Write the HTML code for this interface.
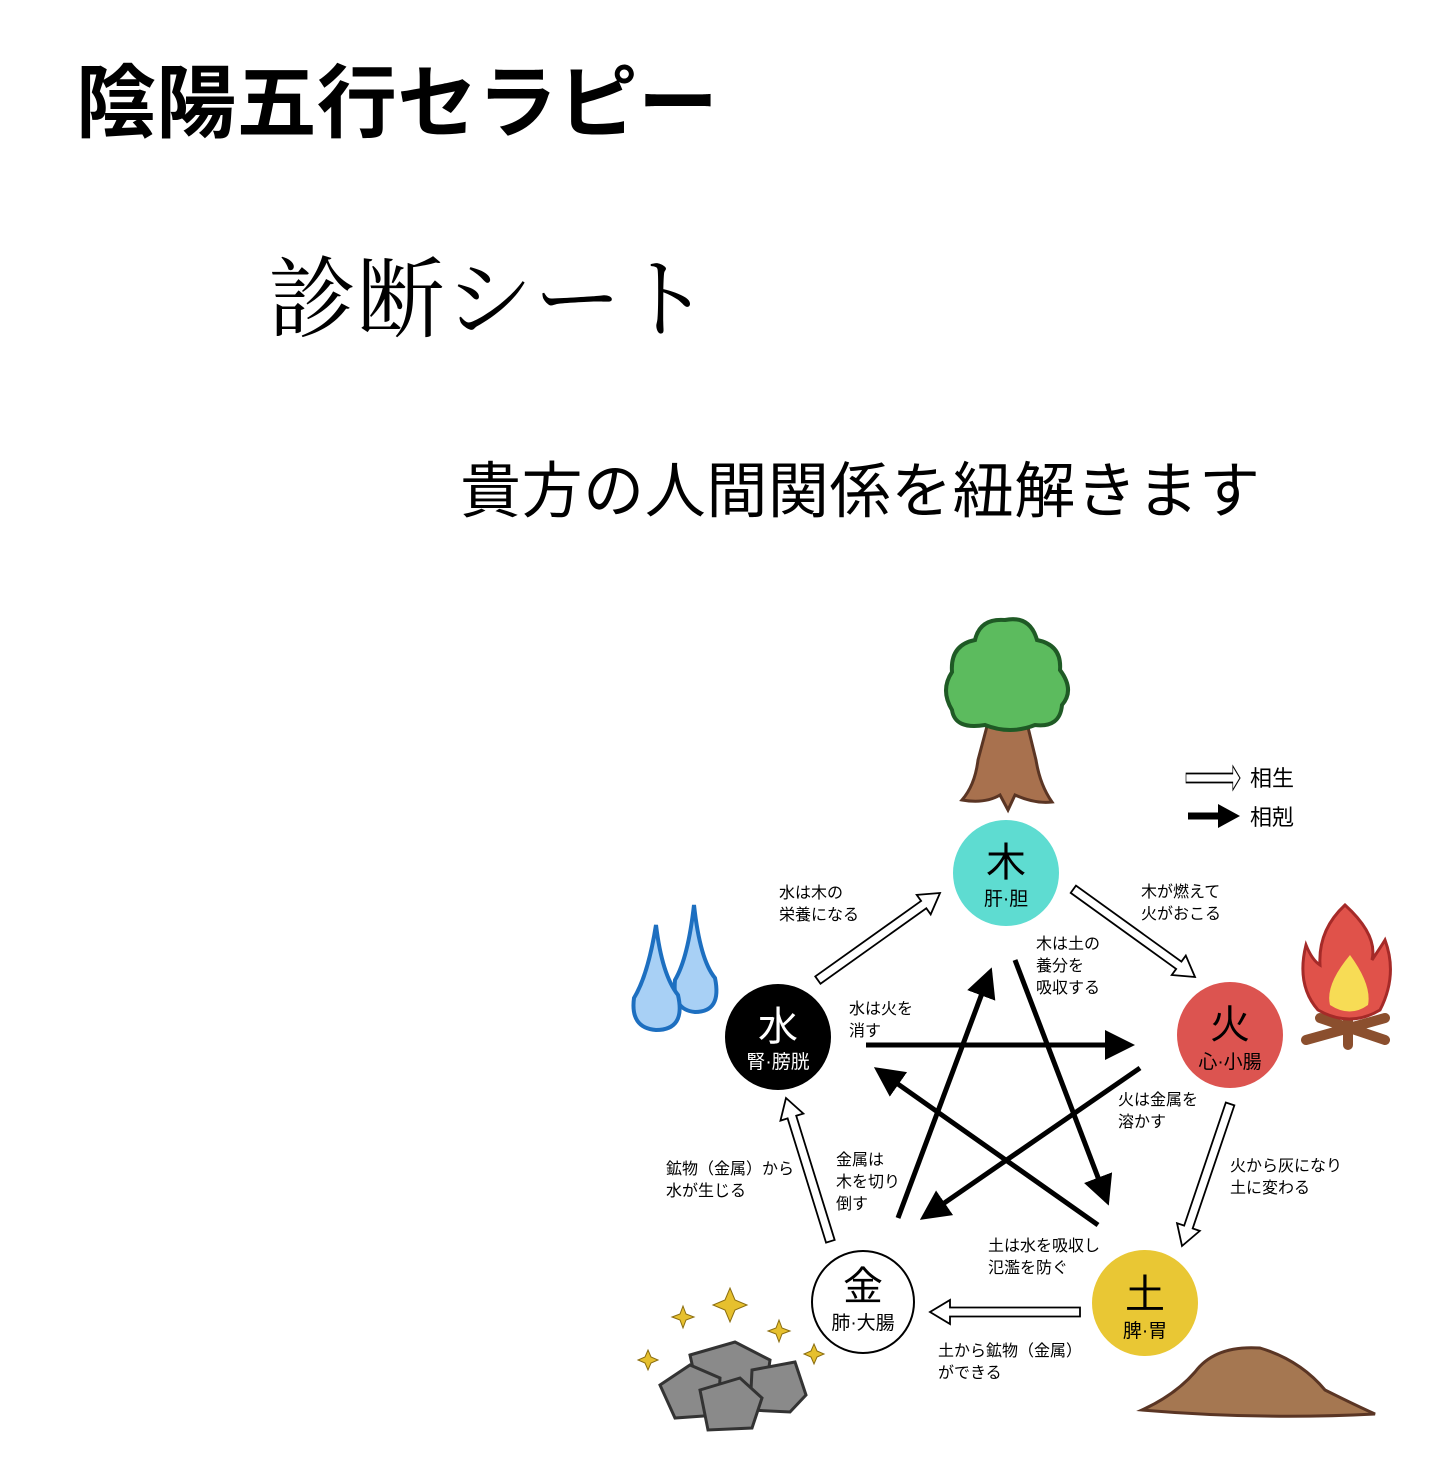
<!DOCTYPE html>
<html><head><meta charset="utf-8"><style>
html,body{margin:0;padding:0;background:#fff;}
body{width:1445px;height:1481px;overflow:hidden;position:relative;}
svg{position:absolute;left:0;top:0;}
</style></head><body>
<svg width="1445" height="1481" viewBox="0 0 1445 1481" xmlns="http://www.w3.org/2000/svg">
<defs>
<marker id="ah" markerWidth="6" markerHeight="6" refX="5" refY="3" orient="auto" markerUnits="strokeWidth">
<path d="M0,0 L6,3 L0,6 z" fill="#000"/></marker>
<g id="ha"><polygon points="0,0 -20,-12 -20,-4.5 -150,-4.5 -150,4.5 -20,4.5 -20,12" fill="#fff" stroke="#000" stroke-width="1.8" stroke-linejoin="miter"/></g>
</defs>
<g font-family="'Liberation Sans','Noto Sans CJK JP',sans-serif">
<text x="76" y="131" font-size="80" font-weight="bold" textLength="642">陰陽五行セラピー</text>
<text x="268" y="330" font-size="88" font-family="'Liberation Serif','Noto Serif CJK SC',serif" textLength="442">診断シート</text>
<text x="460" y="512" font-size="61" textLength="800">貴方の人間関係を紐解きます</text>

<!-- tree -->
<path d="M990,715 L978,760 Q975,785 962,800 Q985,804 1000,795 L1008,810 L1015,795 Q1035,804 1052,802 Q1040,785 1036,760 L1025,715 Z" fill="#a8714e" stroke="#5a3524" stroke-width="3"/>
<path d="M1005,620 Q1030,615 1037,640 Q1062,645 1060,670 Q1075,690 1062,705 Q1060,728 1035,725 Q1010,735 985,725 Q955,730 952,710 Q940,690 952,672 Q950,645 975,640 Q980,618 1005,620Z" fill="#5cbb5e" stroke="#1f5a25" stroke-width="4"/>
<!-- drops -->
<path d="M694,905 Q700,960 715,978 Q722,1012 695,1012 Q672,1010 675,980 Q688,958 694,905Z" fill="#a8d0f5" stroke="#1d6fc0" stroke-width="4"/>
<path d="M656,925 Q662,975 678,995 Q686,1030 656,1030 Q630,1028 634,998 Q648,975 656,925Z" fill="#a8d0f5" stroke="#1d6fc0" stroke-width="4"/>
<!-- fire -->
<path d="M1306,1040 L1385,1018 M1320,1018 L1385,1040 M1348,1020 L1348,1045" stroke="#8b4f2e" stroke-width="10" stroke-linecap="round"/>
<path d="M1345,905 Q1378,935 1372,960 Q1382,945 1385,940 Q1398,975 1380,1010 Q1350,1028 1318,1010 Q1296,985 1306,945 Q1312,960 1320,965 Q1318,930 1345,905Z" fill="#e0524a" stroke="#a52a28" stroke-width="3"/>
<path d="M1350,955 Q1372,985 1368,1005 Q1350,1018 1330,1005 Q1325,985 1350,955Z" fill="#f7dc55"/>
<!-- rocks -->
<g fill="#8a8a8a" stroke="#333" stroke-width="3">
<path d="M690,1355 L735,1342 L770,1360 L765,1395 L700,1400Z"/>
<path d="M660,1385 L690,1365 L720,1378 L718,1415 L675,1418Z"/>
<path d="M752,1370 L795,1362 L806,1395 L790,1412 L750,1410Z"/>
<path d="M700,1390 L740,1378 L762,1398 L752,1428 L708,1430Z"/>
</g>
<g fill="#e6c02e" stroke="#8a6d10" stroke-width="1">
<path d="M730,1288 l5,12 l12,5 l-12,5 l-5,12 l-5,-12 l-12,-5 l12,-5z"/>
<path d="M683,1306 l3,8 l8,3 l-8,3 l-3,8 l-3,-8 l-8,-3 l8,-3z"/>
<path d="M779,1320 l3,8 l8,3 l-8,3 l-3,8 l-3,-8 l-8,-3 l8,-3z"/>
<path d="M648,1350 l3,7 l7,3 l-7,3 l-3,7 l-3,-7 l-7,-3 l7,-3z"/>
<path d="M814,1344 l3,7 l7,3 l-7,3 l-3,7 l-3,-7 l-7,-3 l7,-3z"/>
</g>
<!-- dirt -->
<path d="M1142,1410 Q1175,1395 1195,1372 Q1215,1345 1260,1348 Q1300,1360 1325,1390 Q1355,1405 1375,1414 Q1260,1420 1142,1410Z" fill="#a57751" stroke="#5a3524" stroke-width="3"/>

<!-- legend -->
<use href="#ha" transform="translate(1240,778) scale(0.36,1)"/>
<line x1="1188" y1="816" x2="1222" y2="816" stroke="#000" stroke-width="7"/>
<polygon points="1240,816 1218,804 1218,828" fill="#000"/>
<text x="1250" y="786" font-size="22">相生</text>
<text x="1250" y="825" font-size="22">相剋</text>

<!-- solid arrows -->
<g stroke="#000" stroke-width="5" marker-end="url(#ah)">
<line x1="866" y1="1045" x2="1130" y2="1045"/>
<line x1="1140" y1="1068" x2="924" y2="1217"/>
<line x1="898" y1="1218" x2="990" y2="972"/>
<line x1="1015" y1="960" x2="1107" y2="1201"/>
<line x1="1098" y1="1225" x2="878" y2="1070"/>
</g>
<!-- hollow arrows -->
<use href="#ha" transform="translate(940,893) rotate(-35.5)"/>
<use href="#ha" transform="translate(1195,977) rotate(35.8)"/>
<use href="#ha" transform="translate(1182,1246) rotate(108.7)"/>
<use href="#ha" transform="translate(930,1312) rotate(180)"/>
<use href="#ha" transform="translate(786,1098) rotate(-107.2)"/>

<!-- circles -->
<circle cx="1006" cy="873" r="53" fill="#5edcd1"/>
<circle cx="1230" cy="1035" r="53" fill="#dc5450"/>
<circle cx="1145" cy="1303" r="53" fill="#e9c734"/>
<circle cx="863" cy="1302" r="51" fill="#fff" stroke="#000" stroke-width="2"/>
<circle cx="778" cy="1037" r="53" fill="#000"/>
<g text-anchor="middle">
<text x="1006" y="876" font-size="40">木</text><text x="1006" y="905" font-size="19">肝·胆</text>
<text x="1230" y="1038" font-size="40">火</text><text x="1230" y="1068" font-size="19">心·小腸</text>
<text x="1145" y="1308" font-size="40">土</text><text x="1145" y="1337" font-size="19">脾·胃</text>
<text x="863" y="1300" font-size="40">金</text><text x="863" y="1329" font-size="19">肺·大腸</text>
<text x="778" y="1040" font-size="40" fill="#fff">水</text><text x="778" y="1068" font-size="19" fill="#fff">腎·膀胱</text>
</g>
<!-- labels -->
<g font-size="16">
<text x="779" y="898">水は木の</text><text x="779" y="920">栄養になる</text>
<text x="1141" y="897">木が燃えて</text><text x="1141" y="919">火がおこる</text>
<text x="1036" y="949">木は土の</text><text x="1036" y="971">養分を</text><text x="1036" y="993">吸収する</text>
<text x="849" y="1014">水は火を</text><text x="849" y="1036">消す</text>
<text x="1118" y="1105">火は金属を</text><text x="1118" y="1127">溶かす</text>
<text x="1230" y="1171">火から灰になり</text><text x="1230" y="1193">土に変わる</text>
<text x="666" y="1174">鉱物（金属）から</text><text x="666" y="1196">水が生じる</text>
<text x="836" y="1165">金属は</text><text x="836" y="1187">木を切り</text><text x="836" y="1209">倒す</text>
<text x="988" y="1251">土は水を吸収し</text><text x="988" y="1273">氾濫を防ぐ</text>
<text x="938" y="1356">土から鉱物（金属）</text><text x="938" y="1378">ができる</text>
</g>
</g>
</svg>
</body></html>
